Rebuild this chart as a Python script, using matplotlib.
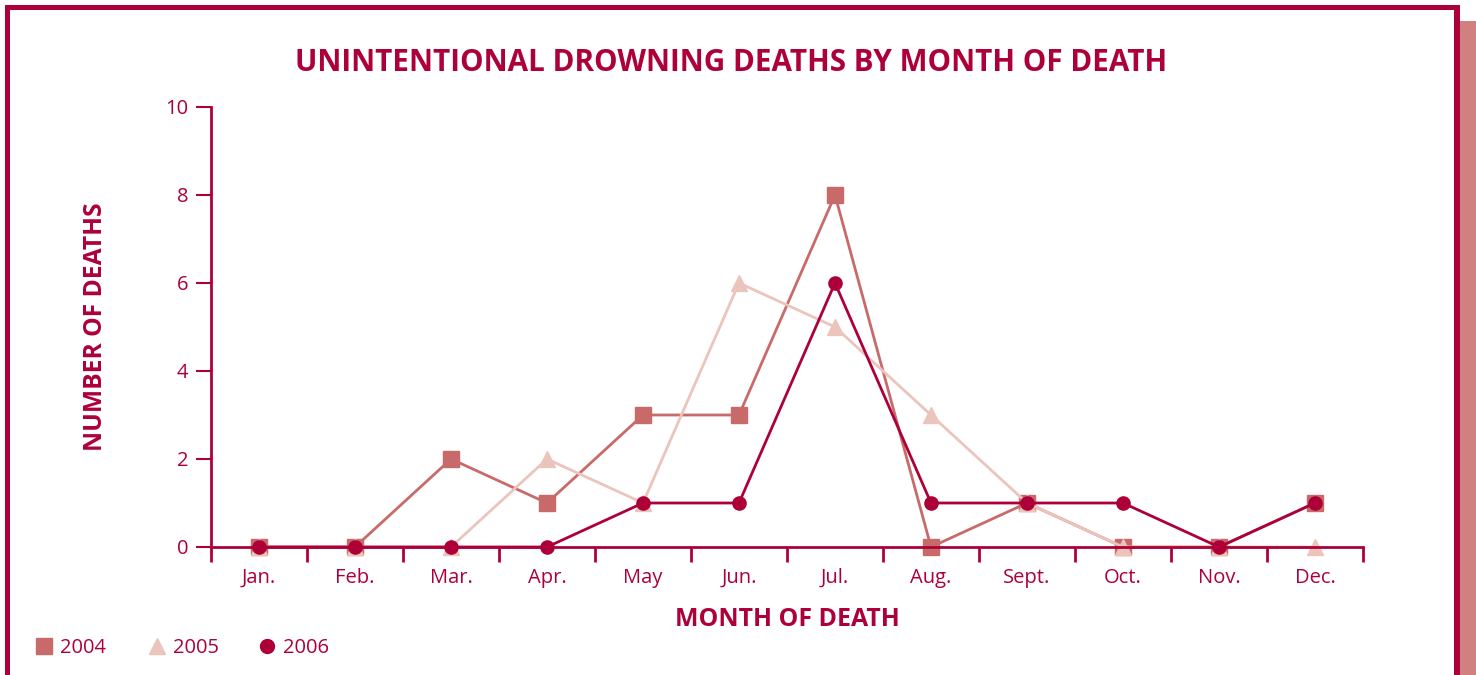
import matplotlib.pyplot as plt
from matplotlib.patches import Rectangle
from matplotlib.lines import Line2D

# ---- data ----
months = ['Jan.', 'Feb.', 'Mar.', 'Apr.', 'May', 'Jun.', 'Jul.', 'Aug.', 'Sept.', 'Oct.', 'Nov.', 'Dec.']
deaths_2004 = [0, 0, 2, 1, 3, 3, 8, 0, 1, 0, 0, 1]
deaths_2005 = [0, 0, 0, 2, 1, 6, 5, 3, 1, 0, 0, 0]
deaths_2006 = [0, 0, 0, 0, 1, 1, 6, 1, 1, 1, 0, 1]
y_ticks = [0, 2, 4, 6, 8, 10]

CRIMSON = '#ad0039'
C2004 = '#c96a6a'
C2005 = '#ebc4bc'
STRIP = '#d08080'
FONT = 'Open Sans'

W, H = 1476, 675
fig = plt.figure(figsize=(W / 100, H / 100), dpi=100)
fig.patch.set_facecolor('white')

# frame around the chart
fig.patches.append(Rectangle((1460 / W, 0), 16 / W, 1 - 21 / H, transform=fig.transFigure,
                             facecolor=STRIP, edgecolor='none'))
fig.patches.append(Rectangle((5 / W, 1 - 10 / H), 1455 / W, 5 / H, transform=fig.transFigure,
                             facecolor=CRIMSON, edgecolor='none'))
fig.patches.append(Rectangle((5 / W, 0), 5 / W, 1 - 5 / H, transform=fig.transFigure,
                             facecolor=CRIMSON, edgecolor='none'))
fig.patches.append(Rectangle((1454 / W, 0), 6 / W, 1 - 5 / H, transform=fig.transFigure,
                             facecolor=CRIMSON, edgecolor='none'))

ax = fig.add_axes([211 / W, 1 - 547 / H, (1363 - 211) / W, (547 - 107) / H])
x = list(range(len(months)))

ax.plot(x, deaths_2004, color=C2004, lw=2, marker='s', ms=11.5, mec=C2004, label='2004', clip_on=False)
ax.plot(x, deaths_2005, color=C2005, lw=2, marker='^', ms=12, mec=C2005, label='2005', clip_on=False)
ax.plot(x, deaths_2006, color=CRIMSON, lw=2, marker='o', ms=9.5, mec=CRIMSON, label='2006', clip_on=False)

ax.set_xlim(-0.5, len(months) - 0.5)
ax.set_ylim(0, 10)
for s in ['top', 'right']:
    ax.spines[s].set_visible(False)
for s in ['left', 'bottom']:
    ax.spines[s].set_color(CRIMSON)
    ax.spines[s].set_linewidth(2)

ax.set_yticks(y_ticks)
ax.tick_params(axis='y', length=10.5, width=1.5, color=CRIMSON, labelcolor=CRIMSON,
               labelsize=14.5, pad=6)
ax.set_xticks(x)
ax.set_xticklabels(months)
ax.tick_params(axis='x', length=0, labelcolor=CRIMSON, labelsize=14.5, pad=15)
ax.set_xticks([i - 0.5 for i in range(len(months) + 1)], minor=True)
ax.tick_params(axis='x', which='minor', length=11, width=2, color=CRIMSON, direction='out')
for lbl in ax.get_xticklabels() + ax.get_yticklabels():
    lbl.set_family(FONT)

fig.text(731 / W, 1 - 63 / H, 'UNINTENTIONAL DROWNING DEATHS BY MONTH OF DEATH', ha='center', va='center',
         color=CRIMSON, fontsize=21.3, fontweight='bold', family=FONT)
fig.text(95 / W, 1 - 327 / H, 'NUMBER OF DEATHS', ha='center', va='center', rotation=90,
         color=CRIMSON, fontsize=17.7, fontweight='bold', family=FONT)
fig.text(787 / W, 1 - 619 / H, 'MONTH OF DEATH', ha='center', va='center',
         color=CRIMSON, fontsize=17.9, fontweight='bold', family=FONT)

# legend drawn by hand at the bottom-left
legend_items = [('2004', C2004, 's', 11), ('2005', C2005, '^', 12), ('2006', CRIMSON, 'o', 10)]
legend_x = [44, 157, 267]
ly = 1 - 646 / H
for (name, col, mk, ms), lx in zip(legend_items, legend_x):
    fig.add_artist(Line2D([lx / W], [ly], transform=fig.transFigure, color=col,
                          marker=mk, ms=ms, ls='none'))
    fig.text((lx + 16) / W, ly - 2 / H, name, ha='left', va='center', color=CRIMSON,
             fontsize=14.5, family=FONT)

fig.savefig('out.png', dpi=100)
